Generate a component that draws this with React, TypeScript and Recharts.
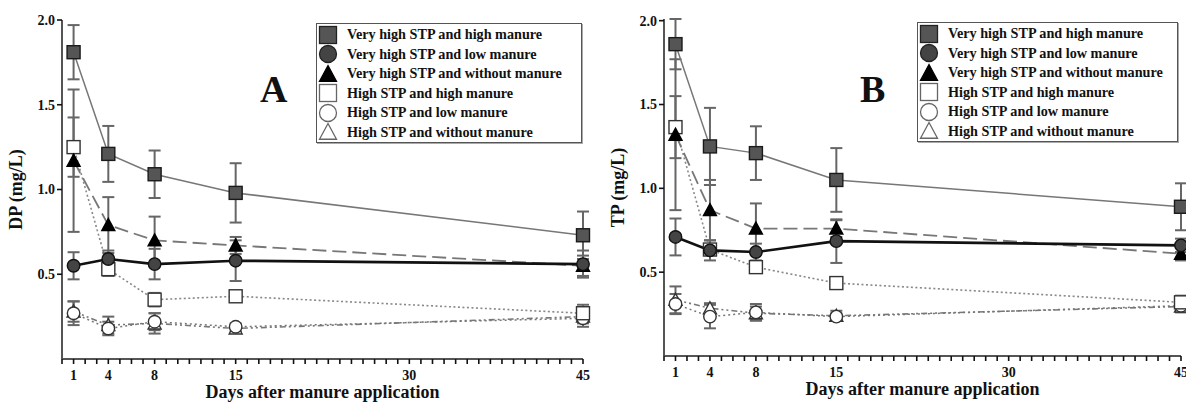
import React from 'react';
import { LineChart, Line, XAxis, YAxis, ErrorBar, Legend } from 'recharts';

const days = [1, 4, 8, 15, 45];
const labeledDays = [1, 4, 8, 15, 30, 45];
const minorTicks = Array.from({ length: 46 }, (_, i) => i);
const yTicks = [0.5, 1.0, 1.5, 2.0];

const seriesNames = [
  'Very high STP and high manure',
  'Very high STP and low manure',
  'Very high STP and without manure',
  'High STP and high manure',
  'High STP and low manure',
  'High STP and without manure',
];

// Panel A: DP (mg/L)
const aS1 = [1.81, 1.21, 1.09, 0.98, 0.73];
const aS1e = [0.16, 0.165, 0.14, 0.175, 0.14];
const aS2 = [0.55, 0.59, 0.56, 0.58, 0.56];
const aS2e = [0.08, 0.05, 0.09, 0.12, 0.08];
const aS3 = [1.17, 0.79, 0.70, 0.67, 0.55];
const aS3e = [0.42, 0.165, 0.14, 0.05, 0.06];
const aS4 = [1.25, 0.53, 0.35, 0.37, 0.27];
const aS4e = [0.175, 0.04, 0.04, 0.02, 0.05];
const aS5 = [0.27, 0.18, 0.22, 0.19, 0.24];
const aS5e = [0.07, 0.04, 0.05, 0.02, 0.05];
const aS6 = [0.28, 0.20, 0.21, 0.18, 0.25];
const aS6e = [0.06, 0.05, 0.06, 0.02, 0.04];

// Panel B: TP (mg/L)
const bS1 = [1.86, 1.25, 1.21, 1.05, 0.89];
const bS1e = [0.15, 0.23, 0.16, 0.19, 0.14];
const bS2 = [0.71, 0.63, 0.62, 0.685, 0.66];
const bS2e = [0.11, 0.06, 0.05, 0.13, 0.04];
const bS3 = [1.32, 0.87, 0.76, 0.76, 0.61];
const bS3e = [0.45, 0.18, 0.15, 0.05, 0.04];
const bS4 = [1.365, 0.635, 0.53, 0.435, 0.32];
const bS4e = [0.185, 0.03, 0.03, 0.02, 0.04];
const bS5 = [0.31, 0.235, 0.26, 0.235, 0.30];
const bS5e = [0.06, 0.07, 0.05, 0.02, 0.04];
const bS6 = [0.335, 0.285, 0.255, 0.24, 0.295];
const bS6e = [0.08, 0.03, 0.04, 0.03, 0.03];

const FONT = '"Liberation Serif", "Times New Roman", serif';

type Shape = 'square' | 'circle' | 'triangle';
const styles = [
  { shape: 'square' as Shape, fill: '#555', mstroke: '#1a1a1a', stroke: '#777', width: 1.5, dash: undefined },
  { shape: 'circle' as Shape, fill: '#444', mstroke: '#111', stroke: '#111', width: 2.6, dash: undefined },
  { shape: 'triangle' as Shape, fill: '#000', mstroke: '#000', stroke: '#777', width: 1.8, dash: '14 6' },
  { shape: 'square' as Shape, fill: '#fff', mstroke: '#333', stroke: '#888', width: 1.6, dash: '2 2.5' },
  { shape: 'circle' as Shape, fill: '#fff', mstroke: '#333', stroke: '#777', width: 1.5, dash: '2 3' },
  { shape: 'triangle' as Shape, fill: '#fff', mstroke: '#333', stroke: '#777', width: 1.6, dash: '6 3 2 3 2 3' },
];

function MarkerShape({ cx, cy, shape, fill, stroke, size, sw }: any) {
  if (cx == null || cy == null) return null;
  const h = size / 2;
  if (shape === 'square') {
    return <rect x={cx - h} y={cy - h} width={size} height={size} fill={fill} stroke={stroke} strokeWidth={sw} />;
  }
  if (shape === 'circle') {
    return <circle cx={cx} cy={cy} r={h} fill={fill} stroke={stroke} strokeWidth={sw} />;
  }
  const pts = `${cx},${cy - h} ${cx + h},${cy + h * 0.85} ${cx - h},${cy + h * 0.85}`;
  return <polygon points={pts} fill={fill} stroke={stroke} strokeWidth={sw} />;
}

function buildRows(vals: number[][], errs: number[][]) {
  return days.map((d, i) => {
    const row: any = { day: d };
    vals.forEach((v, k) => {
      row[`s${k}`] = v[i];
      row[`e${k}`] = errs[k][i];
    });
    return row;
  });
}

const dataA = buildRows([aS1, aS2, aS3, aS4, aS5, aS6], [aS1e, aS2e, aS3e, aS4e, aS5e, aS6e]);
const dataB = buildRows([bS1, bS2, bS3, bS4, bS5, bS6], [bS1e, bS2e, bS3e, bS4e, bS5e, bS6e]);

const TICK_SIZE = 5;
const TICK_MARGIN = 6;

function XTick(props: any) {
  const { x, y, payload } = props;
  const axisY = y - TICK_SIZE - TICK_MARGIN;
  const v = payload?.value;
  return (
    <g>
      <line x1={x} x2={x} y1={axisY} y2={axisY + TICK_SIZE} stroke="#111" strokeWidth={1.6} />
      {labeledDays.includes(v) ? (
        <text
          x={x}
          y={y}
          dy="0.71em"
          textAnchor="middle"
          fontFamily={FONT}
          fontWeight="bold"
          fontSize={14}
          fill="#111"
        >
          {String(v)}
        </text>
      ) : null}
    </g>
  );
}

function LegendBox() {
  return (
    <div
      style={{
        border: '1.5px solid #555',
        boxShadow: '1px 1px 0 #aaa',
        background: '#fff',
        width: '100%',
        height: '100%',
        boxSizing: 'border-box',
        paddingTop: 1,
      }}
    >
      {seriesNames.map((n, k) => {
        const st = styles[k];
        return (
          <div key={n} style={{ display: 'flex', alignItems: 'center', height: 19.5 }}>
            <svg width={28} height={20} style={{ flex: 'none' }}>
              <MarkerShape cx={11} cy={10} shape={st.shape} size={17} fill={st.fill} stroke={st.shape === 'triangle' && k === 2 ? '#000' : st.fill === '#fff' ? '#666' : '#222'} sw={1.3} />
            </svg>
            <span
              style={{
                fontFamily: FONT,
                fontWeight: 'bold',
                fontSize: 14.2,
                color: '#111',
                whiteSpace: 'nowrap',
                marginLeft: 2,
                lineHeight: '19px',
              }}
            >
              {n}
            </span>
          </div>
        );
      })}
    </div>
  );
}

function Panel({ data, yLabel, letter, margin, legendPos, letterPos, width }: any) {
  const order = [5, 4, 3, 2, 1, 0];
  return (
    <LineChart width={width} height={405} data={data} margin={margin}>
      <XAxis
        dataKey="day"
        type="number"
        domain={[0, 45]}
        ticks={minorTicks}
        interval={0}
        tickSize={TICK_SIZE}
        tickMargin={TICK_MARGIN}
        axisLine={{ stroke: '#555', strokeWidth: 2 }}
        tickLine={false}
        tick={<XTick />}
        height={30}
        label={{
          value: 'Days after manure application',
          position: 'insideBottom',
          offset: -9,
          style: { fontFamily: FONT, fontWeight: 'bold', fontSize: 18, fill: '#111' },
        }}
      />
      <YAxis
        type="number"
        domain={[0, 2]}
        ticks={yTicks}
        interval={0}
        width={40}
        tickSize={5}
        tickMargin={2}
        axisLine={{ stroke: '#555', strokeWidth: 2 }}
        tickLine={{ stroke: '#111', strokeWidth: 1.6 }}
        tick={{ fontFamily: FONT, fontWeight: 'bold', fontSize: 14, fill: '#111' }}
        tickFormatter={(v: number) => v.toFixed(1)}
        label={{
          value: yLabel,
          angle: -90,
          position: 'insideLeft',
          offset: -6,
          style: { fontFamily: FONT, fontWeight: 'bold', fontSize: 18, fill: '#111', textAnchor: 'middle' },
        }}
      />
      <Legend
        layout="vertical"
        align="center"
        verticalAlign="middle"
        content={() => <LegendBox />}
        wrapperStyle={{ left: legendPos[0], top: legendPos[1], width: legendPos[2], height: 120 }}
      />
      {order.map((k) => {
        const st = styles[k];
        return (
          <Line
            key={k}
            dataKey={`s${k}`}
            name={seriesNames[k]}
            stroke={st.stroke}
            strokeWidth={st.width}
            strokeDasharray={st.dash}
            isAnimationActive={false}
            activeDot={false}
            dot={(p: any) => (
              <MarkerShape
                key={`d${k}-${p.index}`}
                cx={p.cx}
                cy={p.cy}
                shape={st.shape}
                size={st.shape === 'circle' ? 12.5 : 13}
                fill={st.fill}
                stroke={st.mstroke}
                sw={1.4}
              />
            )}
          >
            <ErrorBar dataKey={`e${k}`} width={6} stroke="#666" strokeWidth={2} direction="y" />
          </Line>
        );
      })}
      <text
        x={letterPos[0]}
        y={letterPos[1]}
        fontFamily={FONT}
        fontWeight="bold"
        fontSize={38}
        fill="#111"
      >
        {letter}
      </text>
    </LineChart>
  );
}

export default function App() {
  return (
    <div style={{ position: 'absolute', left: 0, top: 0, width: 1186, height: 405, background: '#fff' }}>
      <div style={{ position: 'absolute', left: 0, top: 0 }}>
        <Panel
          data={dataA}
          width={600}
          yLabel="DP (mg/L)"
          letter="A"
          margin={{ top: 20, right: 17, bottom: 16, left: 22 }}
          legendPos={[316, 23, 266]}
          letterPos={[260, 102]}
        />
      </div>
      <div style={{ position: 'absolute', left: 600, top: 0 }}>
        <Panel
          data={dataB}
          width={586}
          yLabel="TP (mg/L)"
          letter="B"
          margin={{ top: 19, right: 5, bottom: 19, left: 24 }}
          legendPos={[317, 22, 261]}
          letterPos={[260, 102]}
        />
      </div>
    </div>
  );
}
